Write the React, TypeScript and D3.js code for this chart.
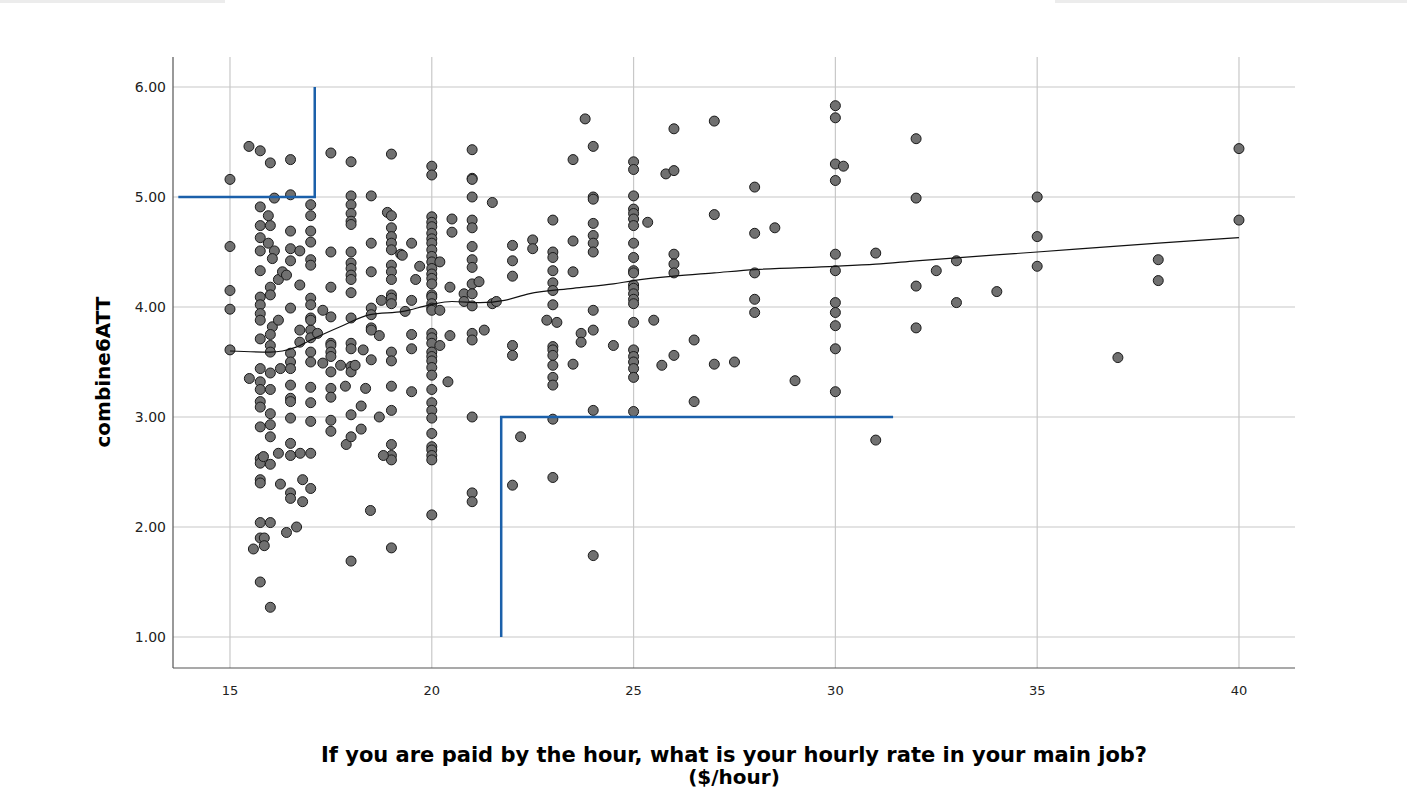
import * as d3 from 'd3'

// ─── Data ────────────────────────────────────────────────────────────────────

const X_TICKS = [15, 20, 25, 30, 35, 40]
const Y_TICKS = [1, 2, 3, 4, 5, 6]

type Pt = [number, number]

// wages 15 – 16.4
const ptsA: Pt[] = [
  [15, 5.16], [15, 4.55], [15, 4.15], [15, 3.98], [15, 3.61],
  [15.47, 5.46], [15.75, 5.42], [16.0, 5.31],
  [16.1, 4.99], [15.75, 4.91], [15.95, 4.83], [15.75, 4.74], [16.0, 4.74], [15.75, 4.63], [15.95, 4.58],
  [15.75, 4.51], [16.1, 4.51], [16.05, 4.44], [15.75, 4.33],
  [15.75, 4.09], [15.75, 4.02], [15.75, 3.94], [15.75, 3.88], [16.0, 4.18], [16.0, 4.11], [16.2, 4.25],
  [16.3, 4.32], [16.05, 3.82], [16.2, 3.88],
  [15.75, 3.71], [16.0, 3.75], [16.0, 3.65], [16.0, 3.59],
  [15.48, 3.35], [15.75, 3.44], [15.75, 3.32], [15.75, 3.25], [15.75, 3.14], [15.75, 3.09], [16.0, 3.4],
  [16.0, 3.25], [16.0, 3.03], [16.0, 2.93], [16.0, 2.82], [15.75, 2.91],
  [15.75, 2.62], [15.75, 2.58], [15.83, 2.64], [16.0, 2.57], [15.75, 2.43], [15.75, 2.4], [16.25, 2.39],
  [15.75, 2.04], [16.0, 2.04], [15.75, 1.9], [15.85, 1.9], [15.85, 1.83], [15.58, 1.8], [15.75, 1.5], [16.0, 1.27],
  [16.25, 3.44], [16.2, 2.67],
]

// wages 16.4 – 17.9
const ptsB: Pt[] = [
  [16.5, 5.34], [16.5, 5.02], [16.5, 4.69], [16.5, 4.53], [16.73, 4.51], [16.5, 4.42], [16.4, 4.29], [16.73, 4.2], [16.5, 3.99],
  [17.0, 4.93], [17.0, 4.83], [17.0, 4.69], [17.0, 4.59], [17.0, 4.43], [17.0, 4.38], [17.0, 4.08], [17.0, 4.02],
  [17.0, 3.9], [17.0, 3.79], [16.73, 3.79], [16.73, 3.68],
  [17.5, 5.4], [17.5, 4.5], [17.5, 4.18], [17.3, 3.97], [17.5, 3.91], [17.5, 3.67],
  [16.5, 3.58], [16.5, 3.5], [16.5, 3.44], [17.0, 3.88], [17.0, 3.72], [17.0, 3.59], [17.0, 3.5], [17.17, 3.76],
  [17.5, 3.65], [17.5, 3.59], [17.5, 3.55], [17.5, 3.41], [17.3, 3.49], [17.74, 3.47],
  [16.5, 3.29], [16.5, 3.17], [16.5, 3.14], [16.5, 2.99], [17.0, 3.27], [17.0, 3.13], [17.0, 2.96],
  [17.5, 3.26], [17.5, 3.18], [17.5, 2.97], [17.5, 2.87], [17.86, 3.28], [17.88, 2.75],
  [16.5, 2.76], [16.5, 2.65], [16.74, 2.67], [17.0, 2.67], [16.5, 2.31], [16.5, 2.26], [16.8, 2.43], [17.0, 2.35],
  [16.8, 2.23], [16.4, 1.95], [16.65, 2.0],
]

// wages 18 – 19.9
const ptsC: Pt[] = [
  [18, 5.32], [19, 5.39], [18, 5.01], [18, 4.93], [18, 4.85], [18, 4.78], [18, 4.75], [18, 4.5], [18, 4.4],
  [18, 4.35], [18, 4.29], [18, 4.25], [18, 4.13], [18.5, 5.01], [18.5, 4.58], [18.5, 4.32],
  [18.9, 4.86], [19, 4.83], [19, 4.72], [19, 4.64], [19, 4.58], [19, 4.52], [19, 4.38], [19, 4.32], [19, 4.25],
  [19, 4.11], [19, 4.08], [19.23, 4.48], [19.5, 4.58], [19.7, 4.37], [19.6, 4.25], [19.27, 4.47],
  [18.5, 3.99], [18.5, 3.81], [18.75, 4.06], [19, 4.03], [19.34, 3.96], [19.5, 4.06], [18, 3.9], [18.7, 3.74],
  [18, 3.67], [18, 3.62], [18, 3.46], [18, 3.41], [18.1, 3.47], [18.3, 3.61], [18.5, 3.93], [18.5, 3.79],
  [18.5, 3.52], [19, 3.59], [19, 3.51], [19.5, 3.75], [19.5, 3.62],
  [18.36, 3.26], [18, 3.02], [18.25, 3.1], [18.25, 2.89], [18, 2.82], [18.7, 3.0], [19, 3.28], [19, 3.06],
  [19, 2.75], [19, 2.65], [19, 2.61], [18.8, 2.65], [19.5, 3.23], [18.48, 2.15], [18, 1.69], [19, 1.81],
]

// wages 20 – 21.9
const ptsD: Pt[] = [
  [20, 5.28], [20, 5.2], [20, 4.82], [20, 4.77], [20, 4.73], [20, 4.67], [20, 4.62], [20, 4.58], [20, 4.52],
  [20, 4.46], [20, 4.41], [20, 4.35], [20, 4.3], [20, 4.26], [20, 4.21], [20, 4.11], [20, 4.09], [20, 4.03],
  [20, 3.99], [20, 3.97], [20, 3.76], [20, 3.72], [20, 3.67], [20, 3.59], [20, 3.55], [20, 3.51], [20, 3.45],
  [20, 3.38], [20, 3.25], [20, 3.13], [20, 3.06], [20, 2.99], [20, 2.85], [20, 2.73], [20, 2.7], [20, 2.65],
  [20, 2.61], [20, 2.11],
  [20.2, 4.41], [20.2, 3.97], [20.2, 3.65], [20.4, 3.32], [20.45, 3.74], [20.5, 4.8], [20.5, 4.68], [20.45, 4.18],
  [20.8, 4.12], [20.8, 4.05],
  [21, 5.43], [21, 5.17], [21, 5.16], [21, 5.0], [21, 4.79], [21, 4.72], [21, 4.55], [21, 4.43], [21, 4.36],
  [21, 4.21], [21, 4.12], [21, 4.01], [21, 3.76], [21, 3.7], [21, 3.0], [21, 2.31], [21, 2.23],
  [21.17, 4.23], [21.3, 3.79], [21.5, 4.95], [21.5, 4.03], [21.6, 4.05],
]

// wages 22 – 26.9
const ptsE: Pt[] = [
  [22, 4.56], [22, 4.42], [22, 4.28], [22, 3.65], [22, 3.56], [22, 2.38], [22.2, 2.82], [22.5, 4.61], [22.5, 4.53],
  [23, 4.79], [23, 4.5], [23, 4.45], [23, 4.33], [23, 4.22], [23, 4.15], [23, 4.02], [23, 3.64], [23, 3.61],
  [23, 3.56], [23, 3.47], [23, 3.36], [23, 3.29], [23, 2.98], [23, 2.45],
  [22.85, 3.88], [23.1, 3.86], [23.5, 5.34], [23.5, 4.6], [23.5, 4.32], [23.5, 3.48], [23.8, 5.71],
  [24, 5.46], [24, 5.0], [24, 4.98], [24, 4.76], [24, 4.65], [24, 4.58], [24, 4.5], [24, 3.97], [24, 3.79],
  [24, 3.06], [24, 1.74], [23.7, 3.76], [23.7, 3.68], [24.5, 3.65],
  [25, 5.32], [25, 5.25], [25, 5.01], [25, 4.89], [25, 4.85], [25, 4.8], [25, 4.74], [25, 4.58], [25, 4.45],
  [25, 4.33], [25, 4.31], [25, 4.2], [25, 4.17], [25, 4.12], [25, 4.07], [25, 4.03], [25, 3.86], [25, 3.61],
  [25, 3.55], [25, 3.5], [25, 3.44], [25, 3.36], [25, 3.05],
  [25.35, 4.77], [25.5, 3.88], [25.8, 5.21], [26, 5.62], [26, 5.24], [26, 4.48], [26, 4.39], [26, 4.31],
  [26, 3.56], [26.5, 3.7], [26.5, 3.14], [25.7, 3.47],
]

// wages 27 – 40
const ptsF: Pt[] = [
  [27, 5.69], [27, 4.84], [27, 3.48], [27.5, 3.5], [28, 5.09], [28, 4.67], [28, 4.31], [28, 4.07], [28, 3.95],
  [28.5, 4.72], [29, 3.33],
  [30, 5.83], [30, 5.72], [30, 5.3], [30.2, 5.28], [30, 5.15], [30, 4.48], [30, 4.33], [30, 4.04], [30, 3.95],
  [30, 3.83], [30, 3.62], [30, 3.23],
  [31, 4.49], [31, 2.79], [32, 5.53], [32, 4.99], [32, 4.19], [32, 3.81], [32.5, 4.33], [33, 4.42], [33, 4.04],
  [34, 4.14], [35, 5.0], [35, 4.64], [35, 4.37], [37, 3.54], [38, 4.43], [38, 4.24], [40, 5.44], [40, 4.79],
]

// loess fit line
const loess: Pt[] = [
  [15, 3.6], [16, 3.59], [16.3, 3.6], [16.6, 3.63], [17.06, 3.71], [17.73, 3.82], [18.47, 3.93], [19.29, 3.96],
  [19.96, 4.02], [20.5, 4.05], [21.2, 4.04], [21.8, 4.06], [22.4, 4.12], [23.5, 4.17], [24.5, 4.21], [25, 4.24],
  [26, 4.28], [27, 4.31], [28, 4.34], [30, 4.37], [31, 4.39], [32, 4.42], [35, 4.5], [38, 4.58], [40, 4.63],
]

// blue reference lines
const refUpper: Pt[] = [[13.72, 5], [17.1, 5], [17.1, 6]]
const refLower: Pt[] = [[21.72, 1.0], [21.72, 3], [31.43, 3]]

const allPts = [...ptsA, ...ptsB, ...ptsC, ...ptsD, ...ptsE, ...ptsF]

// ─── Layout ──────────────────────────────────────────────────────────────────

const W = 1407
const H = 793
const PLOT = { left: 173, right: 1295, top: 57, bottom: 668 }
const FONT = '"DejaVu Sans", Verdana, sans-serif'

export default function App() {
  const x = d3.scaleLinear().domain([13.588, 41.388]).range([PLOT.left, PLOT.right])
  const y = d3.scaleLinear().domain([0.718, 6.2727]).range([PLOT.bottom, PLOT.top])

  const line = d3.line<Pt>().x((d) => x(d[0])).y((d) => y(d[1]))
  const smooth = d3.line<Pt>().x((d) => x(d[0])).y((d) => y(d[1])).curve(d3.curveMonotoneX)

  const cx = (PLOT.left + PLOT.right) / 2

  return (
    <div style={{ position: 'absolute', left: 0, top: 0 }}>
      <svg width={W} height={H} style={{ display: 'block', background: '#fff' }}>
        <rect x={0} y={0} width={225} height={3} fill="#ececec" />
        <rect x={1055} y={0} width={352} height={3} fill="#ececec" />

        {/* grid */}
        {X_TICKS.map((t) => (
          <line key={'gx' + t} x1={x(t)} x2={x(t)} y1={PLOT.top} y2={PLOT.bottom} stroke="#c8c8c8" strokeWidth={1.2} />
        ))}
        {Y_TICKS.map((t) => (
          <line key={'gy' + t} x1={PLOT.left} x2={PLOT.right} y1={y(t)} y2={y(t)} stroke="#c8c8c8" strokeWidth={1.2} />
        ))}

        {/* axes */}
        <line x1={PLOT.left} x2={PLOT.left} y1={PLOT.top} y2={PLOT.bottom} stroke="#555" strokeWidth={1.2} />
        <line x1={PLOT.left} x2={PLOT.right} y1={PLOT.bottom} y2={PLOT.bottom} stroke="#555" strokeWidth={1.2} />

        {Y_TICKS.map((t) => (
          <text key={'ly' + t} x={166} y={y(t)} dy="0.35em" textAnchor="end" fontSize={14} fontFamily={FONT} fill="#222">
            {t.toFixed(2)}
          </text>
        ))}
        {X_TICKS.map((t) => (
          <text key={'lx' + t} x={x(t)} y={690} dy="0.35em" textAnchor="middle" fontSize={13} fontFamily={FONT} fill="#222">
            {t}
          </text>
        ))}

        {/* points */}
        {allPts.map((d, i) => (
          <circle key={i} cx={x(d[0])} cy={y(d[1])} r={5} fill="#707070" stroke="#1a1a1a" strokeWidth={1} />
        ))}

        {/* loess */}
        <path d={smooth(loess) ?? ''} fill="none" stroke="#111" strokeWidth={1.2} />

        {/* reference lines */}
        <path d={line(refUpper) ?? ''} fill="none" stroke="#1b60aa" strokeWidth={2.5} />
        <path d={line(refLower) ?? ''} fill="none" stroke="#1b60aa" strokeWidth={2.5} />

        {/* titles */}
        <text x={cx} y={762} textAnchor="middle" fontSize={21} fontWeight="bold" fontFamily={FONT} fill="#000">
          If you are paid by the hour, what is your hourly rate in your main job?
        </text>
        <text x={cx} y={784} textAnchor="middle" fontSize={20} fontWeight="bold" fontFamily={FONT} fill="#000">
          ($/hour)
        </text>
        <text
          transform="translate(110,372) rotate(-90)"
          textAnchor="middle"
          fontSize={20}
          fontWeight="bold"
          fontFamily={FONT}
          fill="#000"
        >
          combine6ATT
        </text>
      </svg>
    </div>
  )
}
